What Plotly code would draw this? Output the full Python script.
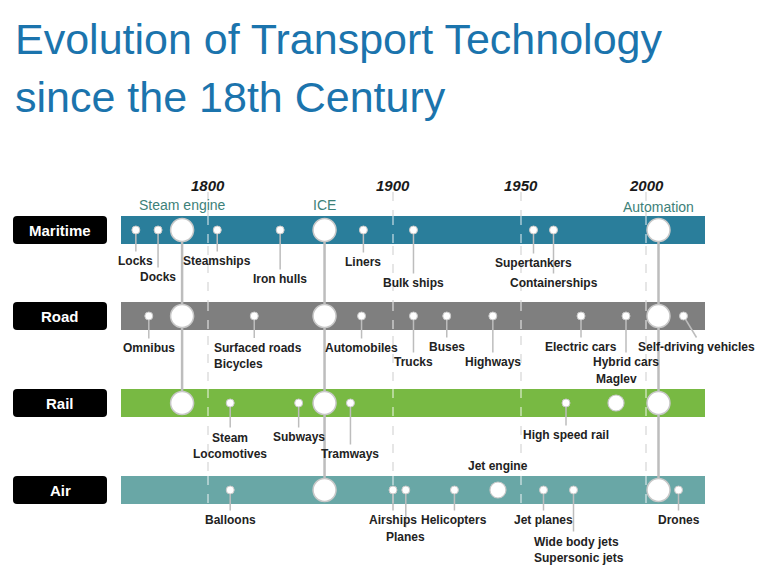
import plotly.graph_objects as go


# ==========================================
# DATA
# ==========================================

modes = ["Maritime", "Road", "Rail", "Air"]

maritime_events = ["Locks", "Docks", "Steamships", "Iron hulls", "Liners",
                   "Bulk ships", "Supertankers", "Containerships"]
maritime_years = [1761, 1773, 1805, 1839, 1884, 1908, 1955, 1963]

road_events = ["Omnibus", "Surfaced roads<br>Bicycles", "Automobiles", "Trucks",
               "Buses", "Highways", "Electric cars", "Hybrid cars",
               "Self-driving vehicles"]
road_years = [1768, 1825, 1883, 1908, 1921, 1939, 1974, 1992, 2015]

rail_events = ["Steam<br>Locomotives", "Subways", "Tramways", "High speed rail", "Maglev"]
rail_years = [1812, 1849, 1877, 1968, 1988]

air_events = ["Balloons", "Airships", "Planes", "Helicopters", "Jet engine",
              "Jet planes", "Wide body jets<br>Supersonic jets", "Drones"]
air_years = [1812, 1900, 1905, 1924, 1941, 1959, 1971, 2013]

# big shifts in technology, and the modes they cut across
era_names = ["Steam engine", "ICE", "Automation"]
era_years = [1786, 1863, 2005]
era_modes = [["Maritime", "Road", "Rail"], modes, modes]

# secondary shifts drawn as medium circles
medium_events = ["Maglev", "Jet engine"]

axis_years = [1800, 1900, 1950, 2000]


# ==========================================
# LAYOUT SETTINGS
# ==========================================

# the timeline is not linear: anchor years -> horizontal position (px)
AXIS_POS = [208, 393, 521, 646]

ROW_Y = {"Maritime": 230, "Road": 316, "Rail": 403, "Air": 490}
BAND_COLORS = {"Maritime": "#2a7e9b", "Road": "#7f7f7f",
               "Rail": "#78b943", "Air": "#69a7a6"}
BAND_H = 28
BAND_X = (121, 705)

# page body adds an 8px margin; shift the axes so units stay = page pixels
PAGE_OFF = 8

# label centre offset from band centre (px)
LABEL_DY = {
    "Locks": 31, "Docks": 47, "Steamships": 31, "Iron hulls": 49, "Liners": 32,
    "Bulk ships": 53, "Supertankers": 33, "Containerships": 53,
    "Omnibus": 32, "Surfaced roads<br>Bicycles": 40, "Automobiles": 32,
    "Trucks": 46, "Buses": 31, "Highways": 46, "Electric cars": 31,
    "Hybrid cars": 46, "Self-driving vehicles": 31,
    "Steam<br>Locomotives": 42.5, "Subways": 34, "Tramways": 51,
    "High speed rail": 32, "Maglev": -24,
    "Balloons": 30, "Airships": 30, "Planes": 47, "Helicopters": 30,
    "Jet engine": -24, "Jet planes": 30, "Wide body jets<br>Supersonic jets": 59.5,
    "Drones": 30,
}
# labels that hang left-aligned from a point left of the dot
LEFT_ALIGNED = {"Surfaced roads<br>Bicycles": -42,
                "Wide body jets<br>Supersonic jets": -42,
                "Maglev": -22}
LABEL_XSHIFT = {"Self-driving vehicles": 13}

LINE_GREY = "#bdbdbd"
LABEL_FONT = dict(family="Liberation Sans Narrow, Arial Narrow, Liberation Sans",
                  size=12, color="#222222", weight="bold")


def year_to_x(year):
    ys, xs = axis_years, AXIS_POS
    if year <= ys[1]:
        i = 0
    elif year <= ys[2]:
        i = 1
    else:
        i = 2
    slope = (xs[i + 1] - xs[i]) / (ys[i + 1] - ys[i])
    return xs[i] + (year - ys[i]) * slope


def rounded_box(x0, y0, x1, y1, r):
    return (f"M{x0 + r},{y0} L{x1 - r},{y0} Q{x1},{y0} {x1},{y0 + r} "
            f"L{x1},{y1 - r} Q{x1},{y1} {x1 - r},{y1} L{x0 + r},{y1} "
            f"Q{x0},{y1} {x0},{y1 - r} L{x0},{y0 + r} Q{x0},{y0} {x0 + r},{y0} Z")


events_by_mode = {
    "Maritime": (maritime_events, maritime_years),
    "Road": (road_events, road_years),
    "Rail": (rail_events, rail_years),
    "Air": (air_events, air_years),
}

fig = go.Figure()
shapes = []
annotations = []

# ==========================================
# YEAR GRID
# ==========================================

for yr in axis_years:
    x = year_to_x(yr)
    shapes.append(dict(type="line", x0=x, x1=x, y0=192, y1=504, layer="below",
                       line=dict(color="#d6d6d6", width=1.2, dash="dash")))
    annotations.append(dict(x=x, y=185, text=str(yr), showarrow=False,
                            font=dict(family="Liberation Sans", size=15,
                                      color="#1a1a1a", weight="bold", style="italic")))

# ==========================================
# BANDS + MODE BOXES
# ==========================================

for m in modes:
    yc = ROW_Y[m]
    shapes.append(dict(type="rect", x0=BAND_X[0], x1=BAND_X[1],
                       y0=yc - BAND_H / 2, y1=yc + BAND_H / 2, layer="below",
                       fillcolor=BAND_COLORS[m], line=dict(width=0)))
    for yr in axis_years:
        x = year_to_x(yr)
        shapes.append(dict(type="line", x0=x, x1=x, y0=yc - BAND_H / 2,
                           y1=yc + BAND_H / 2, layer="below",
                           line=dict(color="rgba(255,255,255,0.75)", width=1.2,
                                     dash="dash")))
    shapes.append(dict(type="path", path=rounded_box(13, yc - 14, 107, yc + 14, 4),
                       fillcolor="#000000", line=dict(width=0), layer="below"))
    annotations.append(dict(x=60, y=yc, text=m, showarrow=False,
                            font=dict(family="Liberation Sans", size=15,
                                      color="white", weight="bold")))

# ==========================================
# ERA CONNECTORS + LABELS
# ==========================================

for name, yr, rows in zip(era_names, era_years, era_modes):
    x = year_to_x(yr)
    fig.add_trace(go.Scatter(x=[x, x], y=[ROW_Y[rows[0]], ROW_Y[rows[-1]]],
                             mode="lines", line=dict(color=LINE_GREY, width=2.5),
                             hoverinfo="skip", showlegend=False))
    annotations.append(dict(x=x, y=205 if name != "Automation" else 207, text=name,
                            showarrow=False,
                            font=dict(family="Liberation Sans", size=14,
                                      color="#3d8179")))

# ==========================================
# EVENT DOTS, CONNECTORS, LABELS
# ==========================================

cx, cy = [], []
small_x, small_y, mid_x, mid_y = [], [], [], []

for m in modes:
    yc = ROW_Y[m]
    names, years = events_by_mode[m]
    for name, yr in zip(names, years):
        x = year_to_x(yr)
        dy = LABEL_DY[name]
        n_lines = name.count("<br>") + 1
        if name in medium_events:
            mid_x.append(x)
            mid_y.append(yc)
        else:
            small_x.append(x)
            small_y.append(yc)
            y_end = yc + dy - n_lines * 8.5 - 1
            cx += [x, x + LABEL_XSHIFT.get(name, 0), None]
            cy += [yc, y_end, None]

        ann = dict(x=x, y=yc + dy, text=name, showarrow=False, font=LABEL_FONT)
        if name in LEFT_ALIGNED:
            ann.update(xanchor="left", align="left", xshift=LEFT_ALIGNED[name])
        else:
            ann.update(xshift=LABEL_XSHIFT.get(name, 0))
        annotations.append(ann)

fig.add_trace(go.Scatter(x=cx, y=cy, mode="lines",
                         line=dict(color=LINE_GREY, width=1.5),
                         hoverinfo="skip", showlegend=False))

fig.add_trace(go.Scatter(x=small_x, y=small_y, mode="markers",
                         marker=dict(size=8, color="white",
                                     line=dict(color="#c8c8c8", width=1)),
                         hoverinfo="skip", showlegend=False))

fig.add_trace(go.Scatter(x=mid_x, y=mid_y, mode="markers",
                         marker=dict(size=16, color="white",
                                     line=dict(color="#c8c8c8", width=1.2)),
                         hoverinfo="skip", showlegend=False))

big_x, big_y = [], []
for yr, rows in zip(era_years, era_modes):
    for m in rows:
        big_x.append(year_to_x(yr))
        big_y.append(ROW_Y[m])

fig.add_trace(go.Scatter(x=big_x, y=big_y, mode="markers",
                         marker=dict(size=23, color="white",
                                     line=dict(color="#c8c8c8", width=1.5)),
                         hoverinfo="skip", showlegend=False))

# ==========================================
# TITLE
# ==========================================

title_font = dict(family="Liberation Sans", size=43, color="#1b74ad")
annotations.append(dict(x=13, y=39, text="Evolution of Transport Technology",
                        xanchor="left", showarrow=False, font=title_font))
annotations.append(dict(x=13, y=97, text="since the 18th Century",
                        xanchor="left", showarrow=False, font=title_font))

fig.update_layout(
    width=780 - PAGE_OFF,
    height=570 - PAGE_OFF,
    margin=dict(l=0, r=0, t=0, b=0),
    plot_bgcolor="white",
    paper_bgcolor="white",
    xaxis=dict(range=[PAGE_OFF, 780], visible=False, fixedrange=True),
    yaxis=dict(range=[570, PAGE_OFF], visible=False, fixedrange=True),
    shapes=shapes,
    annotations=annotations,
)

fig.write_html("out.html")
